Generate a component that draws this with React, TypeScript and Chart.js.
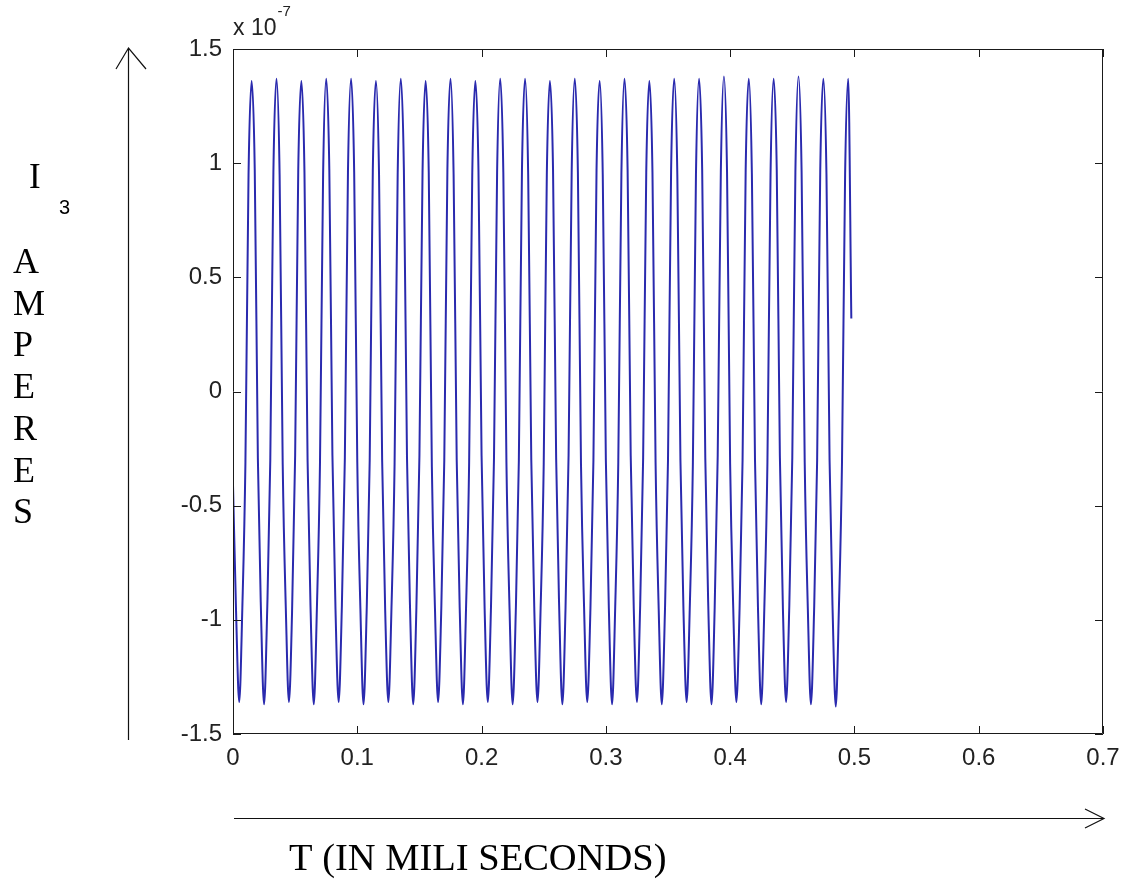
import React, { useEffect, useRef } from "react";
import { Chart, registerables } from "chart.js";

Chart.register(...registerables);

// ---- data (current I3 in units of 1e-7 A, sampled every SAMPLE_STEP_MS) ----
const SAMPLE_STEP_MS = 0.0025;
const X_TICKS = [0, 0.1, 0.2, 0.3, 0.4, 0.5, 0.6, 0.7];
const Y_TICKS = [-1.5, -1, -0.5, 0, 0.5, 1, 1.5];

const currentPart1 = [
  -0.41, -0.97, -1.36, -0.95, -0.31, 0.95, 1.36, 0.97,
  -0.29, -0.96, -1.37, -0.96, -0.30, 0.96, 1.37, 0.95,
  -0.32, -0.95, -1.36, -0.97, -0.28, 0.97, 1.36, 0.96,
  -0.30, -0.97, -1.37, -0.95, -0.31, 0.95, 1.37, 0.97,
  -0.28, -0.96, -1.36, -0.96, -0.29, 0.96, 1.37, 0.96,
];
const currentPart2 = [
  -0.31, -0.95, -1.37, -0.97, -0.30, 0.97, 1.36, 0.95,
  -0.30, -0.97, -1.36, -0.95, -0.32, 0.95, 1.37, 0.97,
  -0.29, -0.96, -1.37, -0.96, -0.28, 0.96, 1.36, 0.96,
  -0.33, -0.95, -1.36, -0.97, -0.30, 0.97, 1.37, 0.95,
  -0.30, -0.97, -1.37, -0.95, -0.31, 0.95, 1.36, 0.97,
];
const currentPart3 = [
  -0.28, -0.96, -1.36, -0.96, -0.29, 0.96, 1.37, 0.96,
  -0.31, -0.95, -1.37, -0.97, -0.30, 0.97, 1.37, 0.95,
  -0.30, -0.97, -1.36, -0.95, -0.32, 0.95, 1.36, 0.97,
  -0.29, -0.96, -1.37, -0.96, -0.28, 0.96, 1.37, 0.96,
  -0.32, -0.95, -1.36, -0.97, -0.30, 0.97, 1.36, 0.95,
];
const currentPart4 = [
  -0.30, -0.97, -1.37, -0.95, -0.31, 0.95, 1.37, 0.97,
  -0.28, -0.96, -1.36, -0.96, -0.29, 0.96, 1.36, 0.96,
  -0.31, -0.95, -1.37, -0.97, -0.30, 0.97, 1.37, 0.95,
  -0.30, -0.97, -1.36, -0.95, -0.32, 0.95, 1.37, 0.97,
  -0.29, -0.96, -1.37, -0.96, -0.28, 0.96, 1.38, 0.96,
];
const currentPart5 = [
  -0.32, -0.95, -1.36, -0.97, -0.30, 0.97, 1.37, 0.95,
  -0.30, -0.97, -1.37, -0.95, -0.31, 0.95, 1.37, 0.97,
  -0.28, -0.96, -1.36, -0.96, -0.29, 0.96, 1.38, 0.96,
  -0.31, -0.95, -1.37, -0.97, -0.30, 0.97, 1.37, 0.95,
  -0.30, -0.97, -1.38, -0.95, -0.31, 0.95, 1.37, 0.32,
];

const EXPONENT_BASE = "x 10";
const EXPONENT_POWER = "-7";
const Y_LABEL_MAIN = "I";
const Y_LABEL_SUB = "3";
const Y_LABEL_UNIT = ["A", "M", "P", "E", "R", "E", "S"];
const X_LABEL = "T (IN MILI SECONDS)";

const W = 1125;
const H = 886;
const SERIF = '"Liberation Serif", "Times New Roman", serif';
const SANS = '"Liberation Sans", Arial, sans-serif';

const fmt = (v: number) => String(Number(v.toFixed(2)));

const decorPlugin = {
  id: "matlabDecor",
  afterDraw(chart: any) {
    const { ctx, chartArea } = chart;
    const { left, right, top, bottom } = chartArea;
    const xs = chart.scales.x;
    const ys = chart.scales.y;
    ctx.save();
    ctx.strokeStyle = "#1a1a1a";
    ctx.lineWidth = 1;
    ctx.beginPath();
    ctx.rect(left + 0.5, top + 0.5, right - left - 1, bottom - top - 1);
    ctx.stroke();
    const TL = 8;
    ctx.beginPath();
    X_TICKS.forEach((v) => {
      const px = Math.round(xs.getPixelForValue(v)) + 0.5;
      ctx.moveTo(px, bottom);
      ctx.lineTo(px, bottom - TL);
      ctx.moveTo(px, top);
      ctx.lineTo(px, top + TL);
    });
    Y_TICKS.forEach((v) => {
      const py = Math.round(ys.getPixelForValue(v)) + 0.5;
      ctx.moveTo(left, py);
      ctx.lineTo(left + TL, py);
      ctx.moveTo(right, py);
      ctx.lineTo(right - TL, py);
    });
    ctx.stroke();

    // exponent label
    ctx.fillStyle = "#222";
    ctx.textBaseline = "alphabetic";
    ctx.textAlign = "left";
    ctx.font = `23px ${SANS}`;
    ctx.fillText(EXPONENT_BASE, left, top - 14);
    const bw = ctx.measureText(EXPONENT_BASE).width;
    ctx.font = `15px ${SANS}`;
    ctx.fillText(EXPONENT_POWER, left + bw + 1, top - 33);

    // arrows
    ctx.strokeStyle = "#111";
    ctx.lineWidth = 1.2;
    ctx.beginPath();
    ctx.moveTo(128.5, 740);
    ctx.lineTo(128.5, 49);
    ctx.moveTo(116, 69);
    ctx.lineTo(128.5, 48);
    ctx.lineTo(146, 69);
    ctx.moveTo(234, 818.5);
    ctx.lineTo(1104, 818.5);
    ctx.moveTo(1085, 809);
    ctx.lineTo(1104, 818.5);
    ctx.lineTo(1085, 828);
    ctx.stroke();

    // axis annotation texts
    ctx.fillStyle = "#000";
    ctx.font = `35px ${SERIF}`;
    ctx.fillText(Y_LABEL_MAIN, 29, 188);
    ctx.font = `20px ${SANS}`;
    ctx.fillText(Y_LABEL_SUB, 59, 214);
    ctx.font = `36px ${SERIF}`;
    Y_LABEL_UNIT.forEach((ch, i) => {
      ctx.fillText(ch, 13, 273 + i * 41.7);
    });
    ctx.font = `38.5px ${SERIF}`;
    ctx.fillText(X_LABEL, 289, 870);
    ctx.restore();
  },
};

export default function App() {
  const canvasRef = useRef<HTMLCanvasElement | null>(null);

  useEffect(() => {
    const canvas = canvasRef.current;
    if (!canvas) return;
    const values = [
      ...currentPart1,
      ...currentPart2,
      ...currentPart3,
      ...currentPart4,
      ...currentPart5,
    ];
    const points = values.map((v, i) => ({ x: i * SAMPLE_STEP_MS, y: v }));

    const chart = new Chart(canvas, {
      type: "line",
      data: {
        datasets: [
          {
            data: points,
            borderColor: "#2a2aae",
            borderWidth: 2,
            pointRadius: 0,
            cubicInterpolationMode: "monotone",
            fill: false,
          },
        ],
      },
      options: {
        animation: false,
        responsive: false,
        devicePixelRatio: 1,
        parsing: false,
        events: [],
        layout: { padding: { left: 0, top: 49, right: 22, bottom: 0 } },
        plugins: {
          legend: { display: false },
          tooltip: { enabled: false },
          title: { display: false },
        },
        scales: {
          x: {
            type: "linear",
            min: 0,
            max: 0.7,
            grid: { display: false, drawTicks: false },
            border: { display: false },
            afterBuildTicks: (s: any) => {
              s.ticks = X_TICKS.map((v) => ({ value: v }));
            },
            afterFit: (s: any) => {
              s.height = H - 734;
              s.paddingLeft = 0;
              s.paddingRight = 0;
            },
            ticks: {
              autoSkip: false,
              maxRotation: 0,
              minRotation: 0,
              padding: 10,
              color: "#222",
              font: { family: SANS, size: 24 },
              callback: (v: any) => fmt(Number(v)),
            },
          },
          y: {
            type: "linear",
            min: -1.5,
            max: 1.5,
            grid: { display: false, drawTicks: false },
            border: { display: false },
            afterBuildTicks: (s: any) => {
              s.ticks = Y_TICKS.map((v) => ({ value: v }));
            },
            afterFit: (s: any) => {
              s.width = 233;
              s.paddingTop = 0;
              s.paddingBottom = 0;
            },
            ticks: {
              autoSkip: false,
              padding: 11,
              color: "#222",
              font: { family: SANS, size: 24 },
              callback: (v: any) => fmt(Number(v)),
            },
          },
        },
      },
      plugins: [decorPlugin],
    });

    return () => {
      chart.destroy();
    };
  }, []);

  return (
    <div
      style={{
        position: "absolute",
        left: 0,
        top: 0,
        width: W,
        height: H,
        background: "#fff",
      }}
    >
      <canvas ref={canvasRef} width={W} height={H} style={{ display: "block", width: W, height: H }} />
    </div>
  );
}
